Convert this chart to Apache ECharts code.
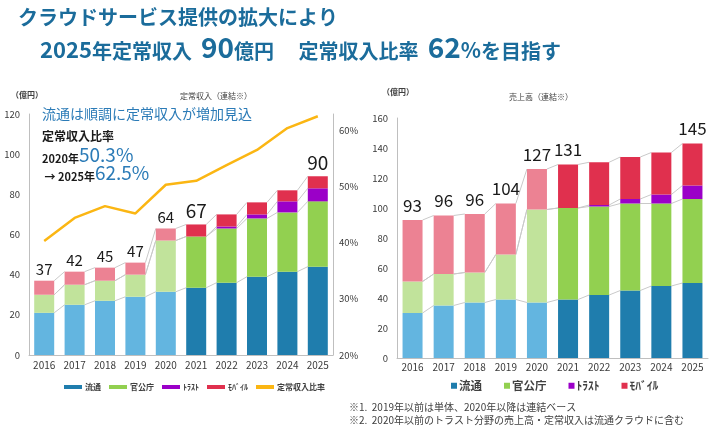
<!DOCTYPE html>
<html>
<head>
<meta charset="utf-8">
<script src="https://cdn.jsdelivr.net/npm/echarts@6/dist/echarts.min.js"></script>
<style>
html, body { margin: 0; padding: 0; background: #fff; }
#main { width: 710px; height: 433px; }
</style>
</head>
<body>
<div id="main"></div>
<script>
// categories
var years = ['2016', '2017', '2018', '2019', '2020', '2021', '2022', '2023', '2024', '2025'];

// 定常収入（億円）
var recRyutsu   = [21, 25, 27, 29, 31.5, 33.5, 36, 39, 41.5, 44];
var recKankocho = [9, 10, 10, 11, 25.5, 25.5, 27, 29, 29.5, 32.5];
var recTrust    = [0, 0, 0, 0, 0, 0, 1, 2, 5.5, 6.5];
var recMobile   = [7, 6.5, 6.5, 6, 6, 6, 6, 6, 5.5, 6];
var recTotals   = ['37', '42', '45', '47', '64', '67', '', '', '', '90'];
// 定常収入比率（%）
var recRatio    = [40.3, 44.4, 46.5, 45.2, 50.3, 51.0, 53.8, 56.5, 60.4, 62.5];

// 売上高（億円）
var salesRyutsu   = [30, 35, 37, 39, 37, 39, 42, 45, 48, 50];
var salesKankocho = [21, 21, 20, 30, 62, 61, 59, 58, 55, 56];
var salesTrust    = [0, 0, 0, 0, 0, 0, 1, 3, 6, 9];
var salesMobile   = [41, 39, 39, 34, 27, 29, 28.5, 28, 28, 28];
var salesTotals   = ['93', '96', '96', '104', '127', '131', '', '', '', '145'];

var FONT = '"Noto Sans CJK JP", "Noto Sans", sans-serif';
var BAR_W = 20;
var LIGHT_UNTIL = 4; // 2020年までは単体ベース（淡色）

var C = {
    ryutsu:   ['#63b5e0', '#1f7dad'],
    kankocho: ['#c1e39b', '#92d050'],
    trust:    ['#9b00c8', '#9b00c8'],
    mobile:   ['#ec8293', '#e0304e'],
    ratio:    '#fbb613'
};

var myChart = echarts.init(document.getElementById('main'));

function items(vals, col) {
    return vals.map(function (v, i) {
        return { value: v, itemStyle: { color: i <= LIGHT_UNTIL ? col[0] : col[1] } };
    });
}

function barSeries(name, vals, col, gi) {
    return {
        name: name, type: 'bar', stack: 'g' + gi,
        xAxisIndex: gi, yAxisIndex: gi === 0 ? 0 : 2,
        barWidth: BAR_W,
        itemStyle: { color: col[1] },
        data: items(vals, col)
    };
}

function topSeries(name, vals, col, gi, totals, big) {
    var s = barSeries(name, vals, col, gi);
    s.data.forEach(function (d, i) {
        d.label = {
            show: totals[i] !== '',
            position: 'top',
            distance: gi === 0 ? 4 : 6,
            formatter: totals[i],
            color: '#1a1a1a',
            fontFamily: FONT,
            fontSize: big(i)
        };
    });
    return s;
}

// 棒の間をつなぐ区分線
function connector(stacks, gi) {
    return {
        type: 'custom', silent: true, z: 1,
        xAxisIndex: gi, yAxisIndex: gi === 0 ? 0 : 2,
        data: years.slice(0, -1).map(function (y, i) { return [i, 0]; }),
        renderItem: function (params, api) {
            var i = api.value(0);
            var c0 = 0, c1 = 0, kids = [];
            stacks.forEach(function (s) {
                c0 += s[i]; c1 += s[i + 1];
                var p0 = api.coord([i, c0]);
                var p1 = api.coord([i + 1, c1]);
                kids.push({
                    type: 'line',
                    shape: { x1: p0[0] + BAR_W / 2, y1: p0[1], x2: p1[0] - BAR_W / 2, y2: p1[1] },
                    style: { stroke: '#c9c9c9', lineWidth: 1 }
                });
            });
            return { type: 'group', children: kids };
        }
    };
}

var axisText = { color: '#3a3a3a', fontFamily: FONT, fontSize: 9.5 };
var grayLine = { show: true, lineStyle: { color: '#bfbfbf', width: 1 } };
var titleBlue = '#1b6c9b';

var option = {
    animation: false,
    textStyle: { fontFamily: FONT },
    grid: [
        { left: 29, top: 114, width: 304, height: 241 },
        { left: 397, top: 118, width: 311, height: 240 }
    ],
    xAxis: [
        {
            type: 'category', gridIndex: 0, data: years,
            axisLine: grayLine, axisTick: { show: false },
            axisLabel: Object.assign({ margin: 5 }, axisText, { fontSize: 10 })
        },
        {
            type: 'category', gridIndex: 1, data: years,
            axisLine: grayLine, axisTick: { show: false },
            axisLabel: Object.assign({ margin: 4 }, axisText, { fontSize: 10 })
        }
    ],
    yAxis: [
        {
            type: 'value', gridIndex: 0, min: 0, max: 120, interval: 20,
            axisLine: grayLine, axisTick: { show: false }, splitLine: { show: false },
            axisLabel: Object.assign({ margin: 9 }, axisText)
        },
        {
            type: 'value', gridIndex: 0, position: 'right', min: 20, max: 62.9, interval: 10,
            axisLine: grayLine, axisTick: { show: false }, splitLine: { show: false },
            axisLabel: Object.assign({
                margin: 6,
                formatter: function (v) { return v % 10 === 0 ? v + '%' : ''; }
            }, axisText)
        },
        {
            type: 'value', gridIndex: 1, min: 0, max: 160, interval: 20,
            axisLine: grayLine, axisTick: { show: false }, splitLine: { show: false },
            axisLabel: Object.assign({ margin: 9 }, axisText)
        }
    ],
    legend: [
        {
            left: 59, top: 378, icon: 'rect', itemWidth: 18, itemHeight: 4, itemGap: 8,
            data: ['流通', '官公庁', 'ﾄﾗｽﾄ', 'ﾓﾊﾞｲﾙ', '定常収入比率'],
            textStyle: { fontFamily: FONT, fontSize: 8, fontWeight: 'bold', color: '#404040', padding: [0, 0, 0, -2] }
        },
        {
            left: 446, top: 375, icon: 'rect', itemWidth: 6, itemHeight: 6, itemGap: 22,
            data: ['流通', '官公庁', 'ﾄﾗｽﾄ', 'ﾓﾊﾞｲﾙ'],
            textStyle: { fontFamily: FONT, fontSize: 11.5, fontWeight: 'bold', color: '#404040', padding: [0, 0, 0, -3] }
        }
    ],
    graphic: [
        { type: 'text', left: 18, top: 7,
          style: { text: 'クラウドサービス提供の拡大により', font: 'bold 20px ' + FONT, fill: titleBlue } },
        { type: 'text', left: 40, top: 33,
          style: {
              text: '{d|2025}{a|年定常収入  }{b|90}{a|億円　 定常収入比率  }{b|62}{c|%}{a|を目指す}',
              rich: {
                  a: { font: 'bold 20px ' + FONT, fill: titleBlue, lineHeight: 20, verticalAlign: 'bottom' },
                  d: { font: 'bold 22px ' + FONT, fill: titleBlue, lineHeight: 21, verticalAlign: 'bottom' },
                  b: { font: 'bold 28px ' + FONT, fill: titleBlue, lineHeight: 27, verticalAlign: 'bottom' },
                  c: { font: 'bold 21px ' + FONT, fill: titleBlue, lineHeight: 21, verticalAlign: 'bottom' }
              }
          } },
        { type: 'text', left: 11, top: 91,
          style: { text: '（億円）', font: 'bold 8px ' + FONT, fill: '#404040' } },
        { type: 'text', left: 180, top: 92, style: { text: '定常収入（連結※）', font: '8px ' + FONT, fill: '#404040', align: 'center' } },
        { type: 'text', left: 382, top: 88,
          style: { text: '（億円）', font: 'bold 8px ' + FONT, fill: '#404040' } },
        { type: 'text', left: 509, top: 93, style: { text: '売上高（連結※）', font: '8px ' + FONT, fill: '#404040' } },
        { type: 'text', left: 42, top: 107,
          style: { text: '流通は順調に定常収入が増加見込', font: '14px ' + FONT, fill: '#2b7bb7' } },
        { type: 'text', left: 42, top: 130,
          style: { text: '定常収入比率', font: 'bold 12px ' + FONT, fill: '#1a1a1a' } },
        { type: 'text', left: 42, top: 145,
          style: {
              text: '{k|2020年}{v|50.3%}\n{k| → 2025年}{v|62.5%}',
              rich: {
                  k: { font: 'bold 11px ' + FONT, fill: '#1a1a1a', lineHeight: 18, verticalAlign: 'bottom' },
                  v: { font: '19px ' + FONT, fill: '#2b7bb7', lineHeight: 18, verticalAlign: 'bottom' }
              }
          } },
        { type: 'text', left: 349, top: 402,
          style: { text: '※1.  2019年以前は単体、2020年以降は連結ベース', font: '10px ' + FONT, fill: '#404040' } },
        { type: 'text', left: 349, top: 415,
          style: { text: '※2.  2020年以前のトラスト分野の売上高・定常収入は流通クラウドに含む', font: '10px ' + FONT, fill: '#404040' } }
    ],
    series: [
        connector([recRyutsu, recKankocho, recTrust, recMobile], 0),
        barSeries('流通', recRyutsu, C.ryutsu, 0),
        barSeries('官公庁', recKankocho, C.kankocho, 0),
        barSeries('ﾄﾗｽﾄ', recTrust, C.trust, 0),
        topSeries('ﾓﾊﾞｲﾙ', recMobile, C.mobile, 0, recTotals, function (i) {
            return (i === 5 || i === 9) ? 19 : 15;
        }),
        {
            name: '定常収入比率', type: 'line', xAxisIndex: 0, yAxisIndex: 1,
            symbol: 'none', z: 5,
            lineStyle: { color: C.ratio, width: 2.5 },
            itemStyle: { color: C.ratio },
            data: recRatio.map(function (v, i) {
                var d = { value: v };
                if (i === 4) d.label = { show: true, position: 'bottom', offset: [5, 6], formatter: '50.3%', fontSize: 11, color: '#595959' };
                if (i === 5) d.label = { show: true, position: 'bottom', offset: [20, -3], formatter: '51.0%', fontSize: 11, color: '#595959' };
                if (i === 9) d.label = { show: true, position: 'bottom', offset: [-3, 2], formatter: '62.5%', fontSize: 13, color: '#404040' };
                return d;
            })
        },
        connector([salesRyutsu, salesKankocho, salesTrust, salesMobile], 1),
        barSeries('流通', salesRyutsu, C.ryutsu, 1),
        barSeries('官公庁', salesKankocho, C.kankocho, 1),
        barSeries('ﾄﾗｽﾄ', salesTrust, C.trust, 1),
        topSeries('ﾓﾊﾞｲﾙ', salesMobile, C.mobile, 1, salesTotals, function () { return 17; })
    ]
};

myChart.setOption(option);
</script>
</body>
</html>
